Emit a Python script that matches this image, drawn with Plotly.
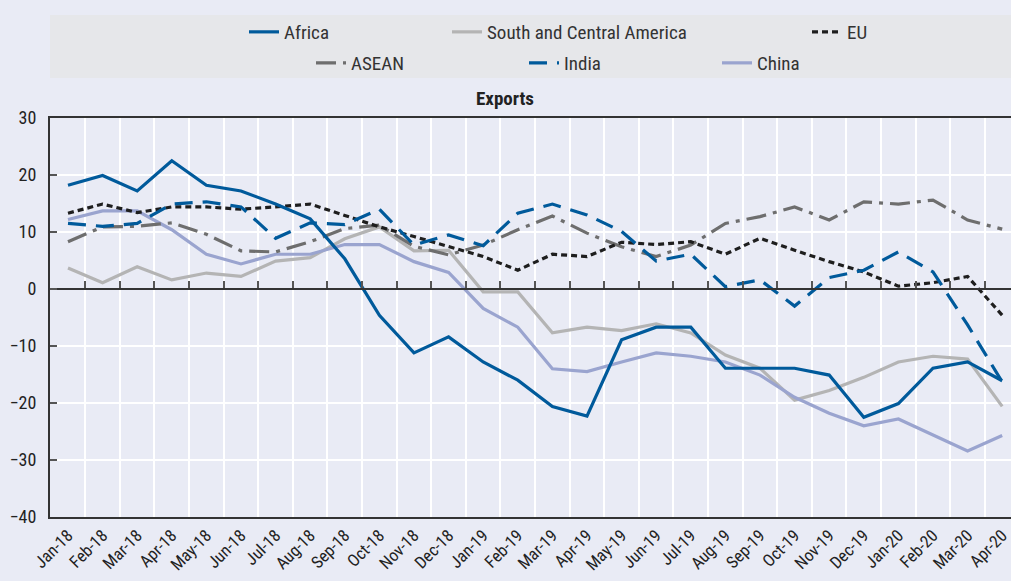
import plotly.graph_objects as go

months = ["Jan-18", "Feb-18", "Mar-18", "Apr-18", "May-18", "Jun-18", "Jul-18",
          "Aug-18", "Sep-18", "Oct-18", "Nov-18", "Dec-18", "Jan-19", "Feb-19",
          "Mar-19", "Apr-19", "May-19", "Jun-19", "Jul-19", "Aug-19", "Sep-19",
          "Oct-19", "Nov-19", "Dec-19", "Jan-20", "Feb-20", "Mar-20", "Apr-20"]

africa = [18.2, 19.9, 17.2, 22.5, 18.2, 17.2, 14.9, 12.3, 5.3, -4.6, -11.2, -8.4,
          -12.8, -16.0, -20.6, -22.3, -8.9, -6.7, -6.7, -13.9, -13.9, -13.9, -15.1,
          -22.5, -20.1, -13.9, -12.8, -16.1]
sc_america = [3.7, 1.1, 3.9, 1.6, 2.8, 2.2, 4.9, 5.5, 8.8, 10.9, 6.7, 6.8,
              -0.5, -0.5, -7.7, -6.7, -7.3, -6.1, -7.7, -11.6, -13.9, -19.5, -17.8,
              -15.5, -12.8, -11.8, -12.3, -20.6]
eu = [13.3, 14.9, 13.4, 14.4, 14.4, 14.0, 14.4, 14.9, 12.9, 10.9, 9.2, 7.4,
      5.7, 3.3, 6.1, 5.7, 8.2, 7.8, 8.3, 6.1, 8.9, 6.8, 4.8, 3.0, 0.5, 1.1, 2.2, -4.6]
asean = [8.3, 10.9, 11.0, 11.6, 9.6, 6.7, 6.5, 8.3, 10.6, 11.2, 7.5, 6.0,
         7.7, 10.4, 12.8, 9.8, 7.4, 5.7, 7.7, 11.5, 12.7, 14.4, 12.1, 15.3,
         14.9, 15.6, 12.1, 10.5]
india = [11.5, 11.0, 11.5, 14.9, 15.3, 14.4, 8.9, 11.6, 11.3, 14.0, 7.7, 9.5,
         7.6, 13.3, 14.9, 13.0, 10.1, 4.9, 6.1, 0.4, 1.6, -3.0, 2.0, 3.3,
         6.5, 3.0, -6.3, -16.3]
china = [12.2, 13.7, 13.7, 10.4, 6.1, 4.4, 6.1, 6.1, 7.8, 7.8, 4.8, 2.9,
         -3.4, -6.7, -14.0, -14.5, -12.8, -11.2, -11.8, -12.8, -15.1, -19.0, -21.8,
         -24.0, -22.8, -25.6, -28.4, -25.7]

y_ticks = [-40, -30, -20, -10, 0, 10, 20, 30]

FONT = "Liberation Sans Narrow, Arial Narrow, Roboto Condensed, Roboto, sans-serif"
BLUE = "#005a9b"

series = [
    ("Africa", africa, BLUE, "solid", "legend", 285, 1),
    ("South and Central America", sc_america, "#b4b4b4", "solid", "legend2", 488, 1),
    ("EU", eu, "#1e1e1e", "6px,4px", "legend3", 848, 1),
    ("ASEAN", asean, "#6e6e6e", "20px,7px,4px,7px", "legend4", 352, 2),
    ("India", india, BLUE, "18px,10px", "legend5", 565, 2),
    ("China", china, "#9aa4cf", "solid", "legend6", 758, 2),
]

fig = go.Figure()
order = ["South and Central America", "China", "ASEAN", "EU", "India", "Africa"]
lookup = {s[0]: s for s in series}
for name in order:
    nm, vals, col, dash, leg, tx, row = lookup[name]
    fig.add_trace(go.Scatter(
        x=months, y=vals, mode="lines", name=nm,
        line=dict(color=col, width=3.2, dash=dash),
        legend=leg, xaxis="x", yaxis="y",
    ))

# overlay axis acting as the zero line with its tick marks
fig.add_trace(go.Scatter(x=months, y=[None] * len(months), xaxis="x2", yaxis="y",
                         showlegend=False, hoverinfo="skip"))

W, H = 1011, 581
ml, mr, mt, mb = 50, 0, 118, 64
pw = W - ml - mr
ph = H - mt - mb

def px_to_paper_x(px):
    return (px - ml) / pw

def py_to_paper_y(py):
    return 1 + (mt - py) / ph

xr = [-0.52, -0.52 + pw / 34.6]

layout_legends = {}
for nm, vals, col, dash, leg, tx, row in series:
    layout_legends[leg] = dict(
        x=px_to_paper_x(tx - 41), xanchor="left",
        y=py_to_paper_y(32 if row == 1 else 63), yanchor="middle",
        orientation="h", bgcolor="rgba(0,0,0,0)", borderwidth=0,
        font=dict(family=FONT, size=19, color="#333333"),
    )

fig.update_layout(
    width=W, height=H,
    margin=dict(l=ml, r=mr, t=mt, b=mb),
    paper_bgcolor="#e9ebf5",
    plot_bgcolor="#e9ebf5",
    font=dict(family=FONT, size=18, color="#222222"),
    showlegend=True,
    xaxis=dict(
        type="category", categoryorder="array", categoryarray=months,
        range=xr, tickson="boundaries", ticks="", showgrid=True,
        gridcolor="#ffffff", gridwidth=1.5, tickangle=-45,
        showline=True, linecolor="#333333", linewidth=2, mirror=True,
        tickfont=dict(family=FONT, size=17, color="#222222"),
        fixedrange=True,
    ),
    xaxis2=dict(
        type="category", categoryorder="array", categoryarray=months,
        matches="x", overlaying="x", anchor="free",
        position=(0 - y_ticks[0]) / (y_ticks[-1] - y_ticks[0]),
        side="bottom", tickson="boundaries", ticks="inside", ticklen=7,
        tickwidth=1.5, tickcolor="#555555", showticklabels=False,
        showgrid=False, showline=True, linecolor="#333333", linewidth=2,
    ),
    yaxis=dict(
        range=[y_ticks[0], y_ticks[-1]], tickvals=y_ticks,
        ticks="inside", ticklen=7, tickwidth=1.5, tickcolor="#555555",
        ticklabelstandoff=8,
        showgrid=True, gridcolor="#ffffff", gridwidth=1.5,
        zeroline=False, showline=True, linecolor="#333333", linewidth=2,
        tickfont=dict(family=FONT, size=18, color="#222222"),
        fixedrange=True,
    ),
    shapes=[dict(
        type="rect", xref="paper", yref="paper",
        x0=0, x1=1, y0=py_to_paper_y(78), y1=py_to_paper_y(15),
        fillcolor="#e6e7ea", line=dict(width=0), layer="below",
    )],
    annotations=[dict(
        text="<b>Exports</b>", xref="paper", yref="paper",
        x=px_to_paper_x(505), y=py_to_paper_y(99), xanchor="center", yanchor="middle",
        showarrow=False, font=dict(family=FONT, size=19, color="#222222"),
    )],
    **layout_legends,
)

fig.write_html("out.html", config={"displayModeBar": False},
               post_script="document.body.style.margin='0';document.body.style.overflow='hidden';")
